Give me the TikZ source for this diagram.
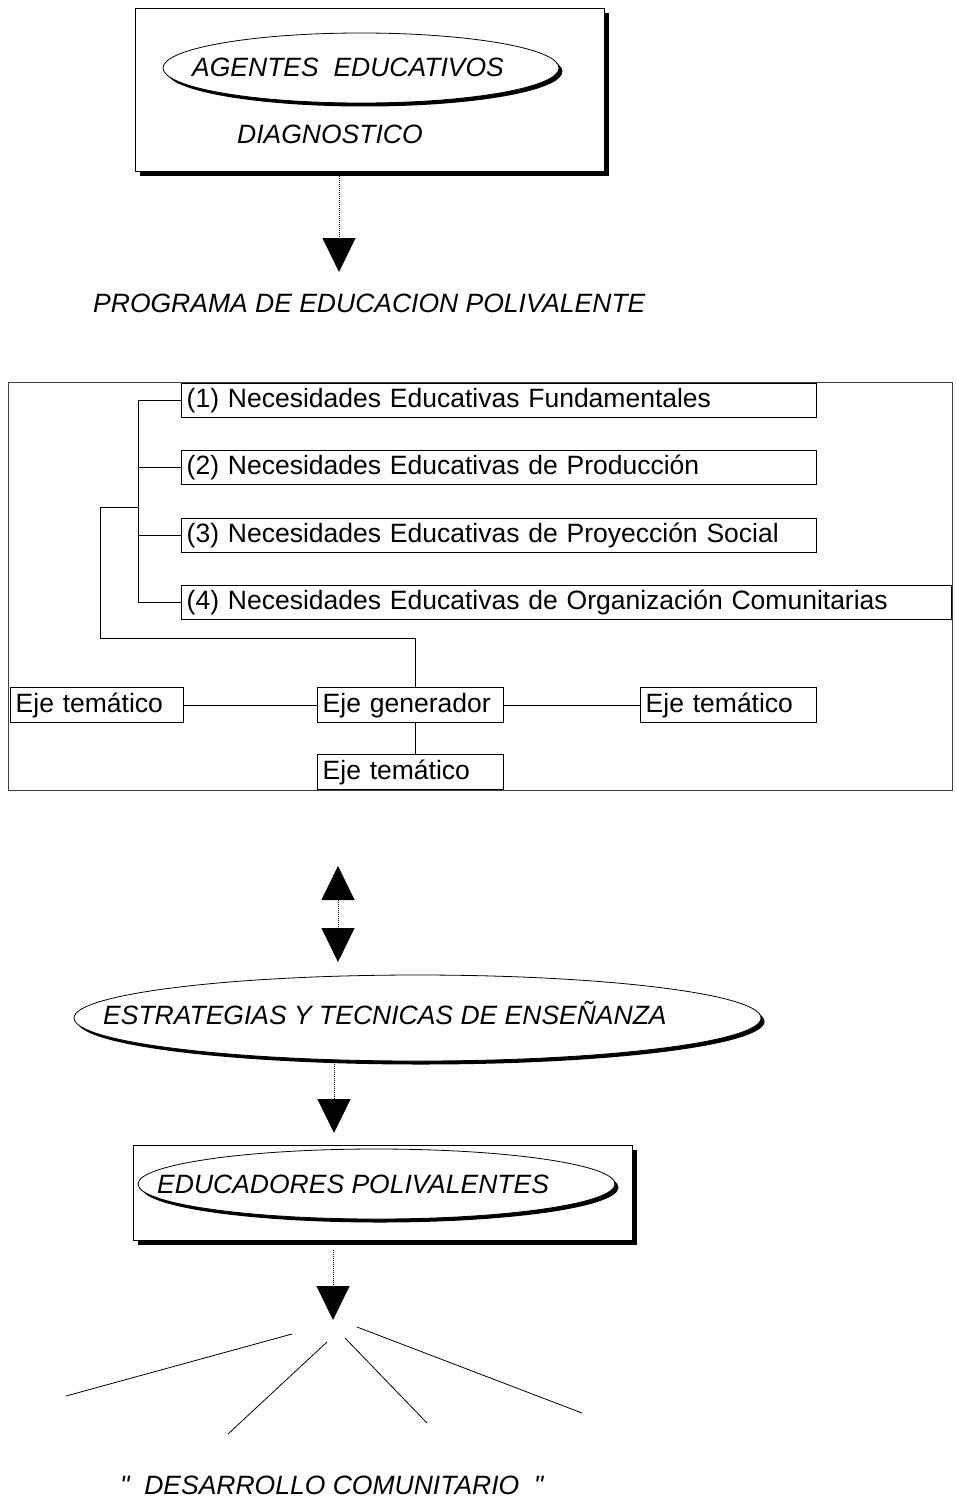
\documentclass[tikz,border=0pt]{standalone}
\usepackage{fontspec}
\setmainfont{Liberation Sans}[Ligatures=TeXOff]
\usetikzlibrary{shapes.geometric,arrows.meta,shadows}
\begin{document}
\begin{tikzpicture}[x=1pt,y=-1pt,
  shbox/.style={draw, line width=1pt, fill=white, rectangle, inner sep=0pt,
    drop shadow={shadow xshift=4.5pt, shadow yshift=-4.5pt, fill=black, opacity=1}},
  shell/.style={draw, line width=0.8pt, fill=white, ellipse, inner sep=0pt,
    drop shadow={shadow xshift=3.5pt, shadow yshift=-3.5pt, fill=black, opacity=1}},
  lbl/.style={anchor=base west, inner sep=0pt, font=\fontsize{26.5}{30}\selectfont\itshape},
  nbox/.style={draw, line width=1.4pt, anchor=north west, inner xsep=5pt, inner ysep=0pt,
    minimum height=34pt, align=left, font=\fontsize{26.5}{30}\selectfont},
  conn/.style={line width=0.8pt},
  arr/.style={densely dotted, line width=1pt, -{Triangle[width=33pt,length=34pt]}},
  darr/.style={densely dotted, line width=1pt, {Triangle[width=33pt,length=34pt]}-{Triangle[width=33pt,length=34pt]}},
  ray/.style={line width=0.8pt}]
\useasboundingbox (0,0) rectangle (957,1501);
\fill[white] (0,0) rectangle (957,1501);

% top box
\node[shbox, anchor=north west, minimum width=469pt, minimum height=163pt] (agbox) at (135,8) {};
\node[shell, minimum width=396pt, minimum height=70pt] (agell) at (361,68) {};
\node[lbl] (agtxt) at (192,77) {AGENTES\ \ EDUCATIVOS};
\node[lbl] (diag) at (237,143) {DIAGNOSTICO};

% arrow 1
\coordinate (a1s) at (339,172);
\coordinate (a1e) at (339,272);
\draw[arr] (a1s) -- (a1e);

\node[lbl] (ptitle) at (93,312) {PROGRAMA DE EDUCACION POLIVALENTE};

% big frame
\node[draw, line width=0.8pt, draw=black!75, anchor=north west, minimum width=944pt,
  minimum height=408pt, inner sep=0pt] (frame) at (8,382) {};

% needs boxes
\node[nbox, text width=625pt] (n1) at (181,383) {(1) Necesidades Educativas Fundamentales};
\node[nbox, text width=625pt] (n2) at (181,450) {(2) Necesidades Educativas de Producción};
\node[nbox, text width=625pt] (n3) at (181,518) {(3) Necesidades Educativas de Proyección Social};
\node[nbox, text width=760pt] (n4) at (181,585) {(4) Necesidades Educativas de Organización Comunitarias};

% eje boxes
\node[nbox, minimum height=35pt, text width=163pt] (eL) at (10,687) {Eje temático};
\node[nbox, minimum height=35pt, text width=176pt] (gen) at (317,687) {Eje generador};
\node[nbox, minimum height=35pt, text width=166pt] (eR) at (640,687) {Eje temático};
\node[nbox, minimum height=35pt, text width=176pt] (eB) at (317,754) {Eje temático};

% bracket connectors
\coordinate (br) at (138,400);
\coordinate (lb) at (100,507);
\coordinate (jn) at (415,638);
\draw[conn] (n1.west) -- (n1.west -| br) -- (n4.west -| br) -- (n4.west);
\draw[conn] (n2.west) -- (n2.west -| br);
\draw[conn] (n3.west) -- (n3.west -| br);
\draw[conn] (lb -| br) -- (lb) -- (lb |- jn) -- (jn) -- (jn |- gen.north);
\draw[conn] (eL.east) -- (gen.west);
\draw[conn] (gen.east) -- (eR.west);
\draw[conn] (jn |- gen.south) -- (jn |- eB.north);

% double arrow
\coordinate (d1) at (338,866);
\coordinate (d2) at (338,962);
\draw[darr] (d1) -- (d2);

% strategies ellipse
\node[shell, minimum width=687pt, minimum height=86pt] (estell) at (417.5,1018) {};
\node[lbl] (esttxt) at (103,1024) {ESTRATEGIAS Y TECNICAS DE ENSEÑANZA};

% arrow 3
\coordinate (a3s) at (334,1064);
\coordinate (a3e) at (334,1133);
\draw[arr] (a3s) -- (a3e);

% educadores box
\node[shbox, anchor=north west, minimum width=499pt, minimum height=95pt] (edbox) at (133,1145) {};
\node[shell, minimum width=477pt, minimum height=70pt] (edell) at (376.5,1184) {};
\node[lbl] (edtxt) at (157,1193) {EDUCADORES POLIVALENTES};

% arrow 4
\coordinate (a4s) at (333,1250);
\coordinate (a4e) at (333,1320);
\draw[arr] (a4s) -- (a4e);

% rays
\coordinate (r1a) at (292,1334); \coordinate (r1b) at (66,1396);
\coordinate (r2a) at (327,1342); \coordinate (r2b) at (228,1434);
\coordinate (r3a) at (345,1338); \coordinate (r3b) at (427,1423);
\coordinate (r4a) at (357,1327); \coordinate (r4b) at (582,1413);
\draw[ray] (r1a) -- (r1b);
\draw[ray] (r2a) -- (r2b);
\draw[ray] (r3a) -- (r3b);
\draw[ray] (r4a) -- (r4b);

\node[lbl] (desc) at (120,1494) {"\ \ DESARROLLO COMUNITARIO\ \ "};
\end{tikzpicture}
\end{document}
